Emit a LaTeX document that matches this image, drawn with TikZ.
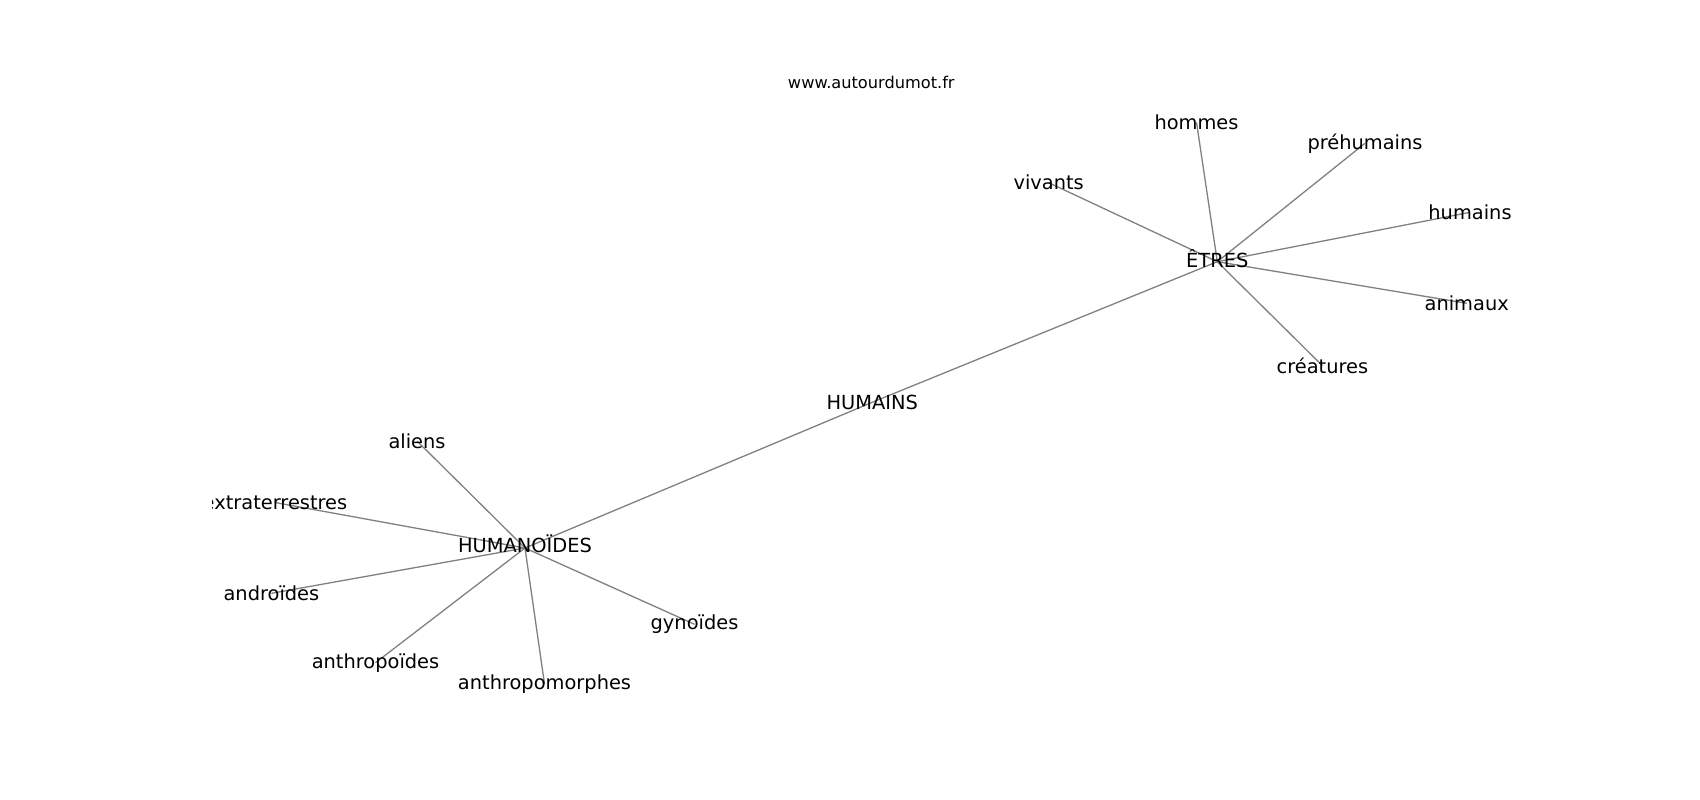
\documentclass[tikz,border=0pt]{standalone}
\usepackage{fontspec}
\setmainfont{DejaVu Sans}
\usetikzlibrary{backgrounds}
\definecolor{edgegray}{RGB}{128,128,128}
\tikzset{
  lbl/.style={inner sep=0pt, text=black, font=\fontsize{19.4pt}{23pt}\selectfont},
  ttl/.style={inner sep=0pt, text=black, font=\fontsize{16.2pt}{19pt}\selectfont},
  edge/.style={draw=edgegray, line width=1.3pt}
}
\begin{document}
\begin{tikzpicture}[x=1pt,y=-1pt]
\useasboundingbox (0,0) rectangle (1700,800);
\node[ttl] (title) at (871.3,82.7) {www.autourdumot.fr};
\begin{scope}
\clip (212.5,96) rectangle (1530,712);
\node[lbl] (etres) at (1217.3,258.7) {ÊTRES};
\node[lbl] (hommes) at (1196.5,122.3) {hommes};
\node[lbl] (vivants) at (1048.7,182.7) {vivants};
\node[lbl] (prehumains) at (1365,143.3) {préhumains};
\node[lbl] (humains) at (1470,212.3) {humains};
\node[lbl] (animaux) at (1466.7,303.3) {animaux};
\node[lbl] (creatures) at (1322.4,365.7) {créatures};
\node[lbl] (HUMAINS) at (872.2,402.3) {HUMAINS};
\node[lbl] (humanoides) at (525,544) {HUMANOÏDES};
\node[lbl] (aliens) at (417,441) {aliens};
\node[lbl] (extra) at (275,502.5) {extraterrestres};
\node[lbl] (androides) at (271.4,593.3) {androïdes};
\node[lbl] (anthropoides) at (375.5,662.7) {anthropoïdes};
\node[lbl] (anthropomorphes) at (544.5,684) {anthropomorphes};
\node[lbl] (gynoides) at (694.5,624.3) {gynoïdes};
\end{scope}
\coordinate (etresC) at ([yshift=-3pt]etres.center);
\coordinate (humanoidesC) at ([yshift=-4pt]humanoides.center);
\begin{scope}[on background layer]
\foreach \n in {hommes,vivants,prehumains,humains,animaux,creatures,HUMAINS}
  \draw[edge] (etresC) -- (\n.center);
\foreach \n in {HUMAINS,aliens,extra,androides,anthropoides,anthropomorphes,gynoides}
  \draw[edge] (humanoidesC) -- (\n.center);
\end{scope}
\end{tikzpicture}
\end{document}
